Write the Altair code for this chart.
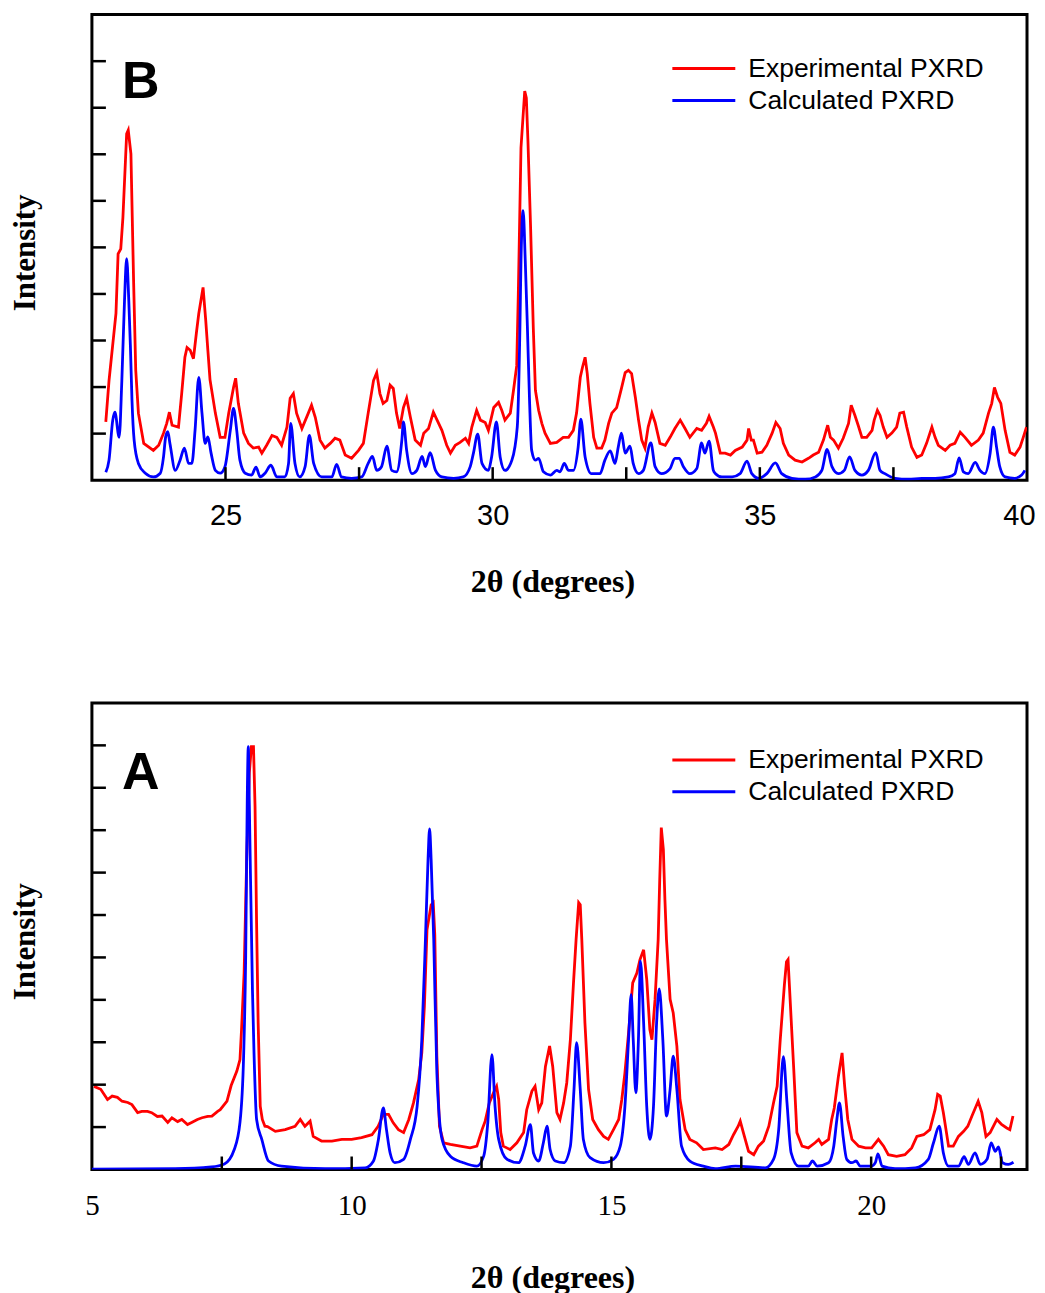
import altair as alt
import pandas as pd

# ---------------- data ----------------
series_names = ["Experimental PXRD", "Calculated PXRD"]
panel_letters = ["B", "A"]
x_title = "2θ (degrees)"
y_title = "Intensity"

# Panel B (top): 2theta 22.5-40
b_exp_x = [22.76, 22.82, 22.95, 22.99, 23.04, 23.08, 23.15, 23.18, 23.23, 23.28, 23.32, 23.37, 23.47, 23.65, 23.75,
           23.84, 23.90, 23.95, 24.00, 24.12, 24.18, 24.24, 24.28, 24.34, 24.40, 24.46, 24.50, 24.58, 24.63, 24.67,
           24.71, 24.81, 24.90, 24.99, 25.06, 25.15, 25.19, 25.24, 25.34, 25.43, 25.52, 25.62, 25.68, 25.77, 25.87,
           25.96, 26.05, 26.15, 26.21, 26.27, 26.33, 26.43, 26.55, 26.61, 26.68, 26.77, 26.86, 26.96, 27.05, 27.14,
           27.24, 27.36, 27.49, 27.58, 27.67, 27.77, 27.83, 27.89, 27.95, 28.02, 28.08, 28.14, 28.20, 28.26, 28.33,
           28.39, 28.46, 28.55, 28.65, 28.71, 28.80, 28.89, 28.96, 29.05, 29.14, 29.21, 29.30, 29.39, 29.49, 29.55,
           29.61, 29.70, 29.77, 29.86, 29.92, 30.02, 30.11, 30.17, 30.23, 30.33, 30.39, 30.45, 30.48, 30.53, 30.60,
           30.63, 30.66, 30.71, 30.76, 30.80, 30.86, 30.92, 30.98, 31.08, 31.20, 31.32, 31.42, 31.51, 31.57, 31.64,
           31.68, 31.73, 31.77, 31.82, 31.89, 31.95, 32.04, 32.10, 32.17, 32.23, 32.32, 32.41, 32.48, 32.54, 32.60,
           32.67, 32.73, 32.79, 32.85, 32.91, 32.98, 33.04, 33.13, 33.23, 33.32, 33.41, 33.51, 33.60, 33.69, 33.82,
           33.91, 34.00, 34.05, 34.13, 34.17, 34.26, 34.35, 34.45, 34.54, 34.67, 34.76, 34.79, 34.84, 34.88, 34.95,
           35.04, 35.13, 35.23, 35.30, 35.38, 35.44, 35.54, 35.66, 35.79, 35.91, 36.00, 36.10, 36.19, 36.27, 36.32,
           36.38, 36.47, 36.56, 36.66, 36.71, 36.78, 36.84, 36.91, 37.00, 37.10, 37.14, 37.20, 37.25, 37.31, 37.38,
           37.47, 37.56, 37.62, 37.69, 37.75, 37.84, 37.94, 38.03, 38.12, 38.22, 38.28, 38.34, 38.47, 38.56, 38.65,
           38.75, 38.84, 38.96, 39.09, 39.18, 39.28, 39.34, 39.39, 39.45, 39.51, 39.59, 39.68, 39.77, 39.87, 39.93,
           39.99]
b_exp_y = [1.25, 2.14, 3.58, 4.86, 4.97, 5.64, 7.44, 7.52, 7.01, 4.28, 2.36, 1.44, 0.79, 0.64, 0.75,
           1.01, 1.22, 1.46, 1.18, 1.14, 1.86, 2.64, 2.85, 2.79, 2.61, 3.21, 3.58, 4.14, 3.43, 2.79,
           2.16, 1.44, 0.92, 0.92, 1.44, 1.99, 2.19, 1.65, 1.01, 0.79, 0.69, 0.71, 0.58, 0.75, 0.96,
           0.92, 0.75, 1.14, 1.76, 1.86, 1.44, 1.11, 1.44, 1.61, 1.35, 0.86, 0.69, 0.79, 0.90, 0.86,
           0.54, 0.47, 0.64, 0.79, 1.44, 2.14, 2.31, 1.86, 1.65, 1.71, 2.04, 1.97, 1.44, 1.11, 1.56,
           1.76, 1.35, 0.86, 0.75, 1.01, 1.11, 1.46, 1.29, 1.07, 0.75, 0.58, 0.75, 0.81, 0.90, 0.79,
           1.14, 1.50, 1.29, 1.24, 1.07, 1.56, 1.67, 1.50, 1.29, 1.44, 1.93, 2.46, 4.01, 7.14, 8.36,
           8.21, 7.29, 5.42, 3.28, 1.93, 1.50, 1.22, 1.01, 0.79, 0.81, 0.92, 0.92, 1.07, 1.44, 2.21,
           2.42, 2.64, 2.29, 1.65, 0.92, 0.69, 0.69, 0.86, 1.22, 1.44, 1.56, 1.97, 2.31, 2.36, 2.29,
           1.78, 1.29, 0.86, 0.69, 1.14, 1.44, 1.24, 0.79, 0.75, 0.92, 1.11, 1.29, 1.11, 0.92, 1.11,
           1.07, 1.22, 1.37, 1.14, 1.01, 0.58, 0.58, 0.54, 0.64, 0.71, 0.86, 1.11, 0.86, 0.86, 0.58,
           0.60, 0.75, 1.01, 1.24, 1.11, 0.79, 0.54, 0.43, 0.39, 0.47, 0.54, 0.60, 0.86, 1.18, 0.92,
           0.86, 0.69, 0.90, 1.22, 1.61, 1.39, 1.18, 0.92, 0.92, 1.07, 1.29, 1.50, 1.39, 1.14, 0.92,
           1.01, 1.14, 1.44, 1.46, 1.14, 0.71, 0.49, 0.54, 0.79, 1.14, 0.92, 0.75, 0.64, 0.75, 0.79,
           1.03, 0.92, 0.75, 0.86, 1.01, 1.44, 1.65, 1.99, 1.78, 1.65, 1.07, 0.60, 0.54, 0.71, 0.92,
           1.14]

b_calc_x = [22.76, 22.82, 22.89, 22.93, 23.01, 23.06, 23.11, 23.15, 23.19, 23.22, 23.25, 23.29, 23.37, 23.50, 23.65,
            23.78, 23.84, 23.88, 23.92, 23.96, 24.06, 24.15, 24.23, 24.31, 24.37, 24.43, 24.50, 24.56, 24.62, 24.67,
            24.73, 24.81, 24.90, 24.99, 25.09, 25.15, 25.21, 25.27, 25.37, 25.49, 25.57, 25.65, 25.74, 25.85, 25.96,
            26.11, 26.18, 26.22, 26.30, 26.39, 26.49, 26.57, 26.65, 26.80, 26.99, 27.08, 27.17, 27.36, 27.55, 27.67,
            27.75, 27.83, 27.92, 28.02, 28.11, 28.20, 28.30, 28.33, 28.39, 28.49, 28.58, 28.68, 28.74, 28.83, 28.93,
            29.05, 29.27, 29.45, 29.58, 29.64, 29.72, 29.80, 29.92, 29.98, 30.07, 30.14, 30.23, 30.36, 30.46, 30.51,
            30.53, 30.57, 30.61, 30.65, 30.69, 30.73, 30.80, 30.86, 30.95, 31.08, 31.20, 31.26, 31.34, 31.42, 31.51,
            31.60, 31.65, 31.73, 31.85, 32.01, 32.10, 32.20, 32.29, 32.35, 32.41, 32.48, 32.57, 32.63, 32.73, 32.82,
            32.96, 33.04, 33.16, 33.32, 33.41, 33.49, 33.57, 33.69, 33.82, 33.91, 33.97, 34.05, 34.13, 34.17, 34.29,
            34.48, 34.63, 34.76, 34.85, 34.98, 35.13, 35.29, 35.41, 35.60, 35.85, 36.04, 36.16, 36.26, 36.35, 36.47,
            36.58, 36.68, 36.78, 36.91, 37.03, 37.17, 37.25, 37.34, 37.53, 37.78, 38.03, 38.28, 38.53, 38.65, 38.73,
            38.81, 38.90, 39.03, 39.12, 39.21, 39.31, 39.37, 39.43, 39.49, 39.59, 39.77, 39.90, 39.96]
b_calc_y = [0.17, 0.43, 1.29, 1.46, 0.92, 2.14, 3.86, 4.76, 3.86, 2.89, 1.71, 0.86, 0.36, 0.15, 0.07,
            0.15, 0.50, 0.93, 1.04, 0.79, 0.21, 0.43, 0.69, 0.36, 0.36, 1.07, 2.21, 1.44, 0.79, 0.93,
            0.58, 0.21, 0.15, 0.29, 1.07, 1.54, 1.07, 0.43, 0.15, 0.11, 0.28, 0.07, 0.15, 0.32, 0.07,
            0.07, 0.36, 1.22, 0.36, 0.07, 0.29, 0.96, 0.36, 0.07, 0.07, 0.34, 0.07, 0.04, 0.07, 0.36,
            0.51, 0.21, 0.29, 0.73, 0.21, 0.18, 0.86, 1.25, 0.64, 0.14, 0.21, 0.51, 0.29, 0.59, 0.21,
            0.07, 0.04, 0.07, 0.29, 0.58, 0.99, 0.36, 0.21, 0.50, 1.25, 0.50, 0.21, 0.43, 1.14, 3.28,
            4.71, 5.79, 4.71, 3.28, 1.71, 0.64, 0.43, 0.47, 0.18, 0.11, 0.21, 0.18, 0.36, 0.21, 0.21,
            0.71, 1.31, 0.50, 0.14, 0.14, 0.43, 0.63, 0.36, 0.71, 1.01, 0.58, 0.73, 0.36, 0.14, 0.21,
            0.80, 0.29, 0.14, 0.25, 0.47, 0.47, 0.29, 0.14, 0.25, 0.80, 0.58, 0.84, 0.21, 0.14, 0.07,
            0.07, 0.14, 0.41, 0.14, 0.04, 0.14, 0.37, 0.14, 0.04, 0.02, 0.07, 0.21, 0.66, 0.29, 0.14,
            0.21, 0.50, 0.21, 0.11, 0.21, 0.59, 0.21, 0.14, 0.04, 0.02, 0.04, 0.04, 0.07, 0.14, 0.48,
            0.18, 0.14, 0.38, 0.21, 0.14, 0.58, 1.14, 0.71, 0.29, 0.07, 0.04, 0.11, 0.21]

# Panel A (bottom): 2theta 5-23
a_exp_x = [5.04, 5.17, 5.30, 5.39, 5.49, 5.58, 5.69, 5.77, 5.88, 5.96, 6.07, 6.15, 6.26, 6.35, 6.46,
           6.54, 6.65, 6.73, 6.84, 6.92, 7.03, 7.12, 7.23, 7.31, 7.42, 7.47, 7.60, 7.68, 7.79, 7.85,
           7.88, 7.93, 7.98, 8.03, 8.07, 8.11, 8.14, 8.17, 8.20, 8.24, 8.28, 8.33, 8.38, 8.53, 8.72,
           8.91, 9.01, 9.10, 9.20, 9.26, 9.42, 9.62, 9.81, 10.00, 10.19, 10.39, 10.51, 10.61, 10.71, 10.80,
           10.90, 11.00, 11.10, 11.19, 11.29, 11.35, 11.40, 11.45, 11.53, 11.57, 11.60, 11.64, 11.69, 11.77, 11.90,
           12.09, 12.28, 12.41, 12.51, 12.57, 12.65, 12.73, 12.79, 12.83, 12.87, 12.92, 13.05, 13.18, 13.31, 13.37,
           13.47, 13.53, 13.60, 13.66, 13.73, 13.81, 13.87, 13.95, 14.01, 14.08, 14.14, 14.21, 14.27, 14.32, 14.37,
           14.40, 14.43, 14.49, 14.56, 14.64, 14.75, 14.85, 14.94, 15.04, 15.14, 15.20, 15.26, 15.33, 15.41, 15.49,
           15.55, 15.62, 15.68, 15.74, 15.78, 15.84, 15.90, 15.93, 15.96, 16.00, 16.03, 16.06, 16.13, 16.19, 16.26,
           16.32, 16.42, 16.51, 16.64, 16.77, 17.00, 17.13, 17.26, 17.35, 17.44, 17.48, 17.54, 17.64, 17.74, 17.83,
           17.93, 18.03, 18.12, 18.19, 18.25, 18.33, 18.37, 18.40, 18.44, 18.51, 18.57, 18.67, 18.79, 18.92, 18.99,
           19.05, 19.18, 19.24, 19.29, 19.37, 19.44, 19.49, 19.55, 19.63, 19.76, 19.89, 20.01, 20.14, 20.24, 20.33,
           20.49, 20.65, 20.78, 20.88, 21.01, 21.13, 21.23, 21.28, 21.33, 21.39, 21.49, 21.58, 21.68, 21.78, 21.86,
           21.94, 22.06, 22.13, 22.21, 22.29, 22.42, 22.51, 22.61, 22.67, 22.73]
a_exp_y = [1.96, 1.89, 1.65, 1.73, 1.70, 1.61, 1.58, 1.53, 1.34, 1.37, 1.37, 1.34, 1.25, 1.26, 1.11,
           1.22, 1.13, 1.18, 1.06, 1.11, 1.18, 1.22, 1.25, 1.26, 1.37, 1.41, 1.61, 1.98, 2.32, 2.59,
           3.30, 4.64, 7.37, 9.35, 9.97, 9.97, 8.56, 5.80, 3.46, 1.49, 1.18, 1.02, 1.01, 0.90, 0.94,
           1.02, 1.18, 1.02, 1.14, 0.78, 0.67, 0.67, 0.71, 0.71, 0.75, 0.82, 1.02, 1.30, 1.30, 1.10,
           0.94, 0.87, 1.18, 1.57, 2.12, 2.75, 3.85, 5.65, 6.24, 6.29, 5.54, 2.67, 1.02, 0.63, 0.59,
           0.55, 0.51, 0.55, 0.94, 1.14, 1.57, 1.81, 1.96, 1.65, 0.87, 0.55, 0.47, 0.63, 0.87, 1.41,
           1.85, 1.96, 1.41, 1.57, 2.43, 2.91, 2.43, 1.34, 1.18, 1.57, 2.04, 3.06, 4.40, 5.42, 6.29,
           6.24, 5.42, 3.46, 1.89, 1.18, 0.94, 0.78, 0.71, 0.94, 1.18, 1.65, 2.28, 3.22, 4.40, 4.63,
           4.95, 5.18, 4.48, 3.30, 3.06, 4.01, 5.42, 6.83, 8.06, 7.54, 6.36, 5.42, 4.01, 3.69, 2.91,
           1.65, 0.94, 0.71, 0.63, 0.47, 0.51, 0.47, 0.59, 0.82, 1.02, 1.14, 0.87, 0.43, 0.35, 0.55,
           0.67, 1.02, 1.57, 1.96, 3.06, 4.36, 4.90, 4.95, 4.01, 2.36, 0.87, 0.55, 0.51, 0.63, 0.71,
           0.59, 0.71, 1.18, 1.45, 2.20, 2.75, 1.96, 1.18, 0.71, 0.55, 0.51, 0.51, 0.71, 0.55, 0.35,
           0.31, 0.35, 0.51, 0.78, 0.82, 0.94, 1.41, 1.77, 1.73, 1.34, 0.55, 0.55, 0.78, 0.90, 1.02,
           1.26, 1.61, 1.34, 0.78, 0.87, 1.18, 1.06, 0.98, 0.94, 1.26]

a_calc_x = [5.00, 6.60, 7.30, 7.55, 7.74, 7.85, 7.92, 7.96, 7.99, 8.01, 8.03, 8.09, 8.12, 8.17, 8.27,
            8.40, 8.65, 9.49, 10.26, 10.42, 10.51, 10.61, 10.67, 10.74, 10.83, 11.00, 11.13, 11.26, 11.35, 11.42,
            11.47, 11.50, 11.53, 11.58, 11.64, 11.74, 11.90, 12.15, 12.41, 12.54, 12.62, 12.70, 12.76, 12.83, 12.99,
            13.21, 13.34, 13.44, 13.50, 13.60, 13.69, 13.76, 13.82, 13.92, 14.08, 14.21, 14.28, 14.33, 14.40, 14.46,
            14.59, 14.85, 15.04, 15.17, 15.26, 15.33, 15.38, 15.42, 15.47, 15.52, 15.56, 15.62, 15.68, 15.74, 15.81,
            15.87, 15.92, 15.99, 16.06, 16.13, 16.19, 16.26, 16.35, 16.51, 16.77, 17.00, 17.39, 17.96, 18.12, 18.22,
            18.31, 18.38, 18.46, 18.60, 18.79, 18.87, 18.96, 19.18, 19.28, 19.34, 19.39, 19.46, 19.53, 19.63, 19.71,
            19.79, 20.01, 20.08, 20.13, 20.21, 20.46, 20.85, 21.10, 21.20, 21.31, 21.39, 21.49, 21.68, 21.79, 21.87,
            22.00, 22.10, 22.23, 22.31, 22.39, 22.45, 22.53, 22.64, 22.74]
a_calc_y = [0.01, 0.02, 0.06, 0.13, 0.47, 1.11, 2.67, 5.03, 8.72, 9.97, 8.60, 4.24, 2.76, 1.18, 0.71,
            0.20, 0.08, 0.02, 0.04, 0.20, 0.67, 1.45, 0.94, 0.39, 0.16, 0.24, 0.71, 1.49, 3.06, 5.42,
            7.30, 8.03, 7.30, 5.42, 2.28, 0.71, 0.31, 0.16, 0.08, 0.31, 1.10, 2.71, 1.49, 0.71, 0.24,
            0.16, 0.55, 1.06, 0.39, 0.20, 0.63, 1.02, 0.47, 0.20, 0.16, 0.55, 1.89, 2.99, 1.89, 0.71,
            0.28, 0.16, 0.24, 0.55, 1.49, 3.06, 4.12, 3.06, 1.81, 3.06, 4.91, 3.46, 1.49, 0.71, 1.49,
            3.46, 4.26, 3.06, 1.26, 1.89, 2.67, 1.89, 0.55, 0.20, 0.08, 0.02, 0.08, 0.04, 0.24, 0.94,
            2.66, 1.57, 0.39, 0.08, 0.08, 0.20, 0.08, 0.16, 0.55, 1.18, 1.57, 0.78, 0.24, 0.16, 0.20,
            0.08, 0.08, 0.16, 0.37, 0.08, 0.02, 0.04, 0.24, 0.63, 1.02, 0.39, 0.08, 0.08, 0.30, 0.12,
            0.39, 0.12, 0.24, 0.63, 0.43, 0.53, 0.16, 0.12, 0.17]

# axis layout values
b_x_domain = [22.5, 40]
b_y_domain = [0, 10]
b_x_labels = [25, 30, 35, 40]
b_x_ticks = [25, 27.5, 30, 32.5, 35, 37.5]
b_y_ticks = [1, 2, 3, 4, 5, 6, 7, 8, 9]

a_x_domain = [5, 23]
a_y_domain = [0, 11]
a_x_labels = [5, 10, 15, 20]
a_x_ticks = [7.5, 10, 12.5, 15, 17.5, 20, 22.5]
a_y_ticks = [1, 2, 3, 4, 5, 6, 7, 8, 9, 10]

RED = "#ff0000"
BLUE = "#0000ff"
W = 936
SERIF = "Liberation Serif"
SANS = "Liberation Sans"


def panel(exp_x, exp_y, calc_x, calc_y, xdom, ydom, xlabels, xticks, yticks,
          letter, tick_font, label_pad, title_pad, flush, leg_y, letter_y, H):
    exp = pd.DataFrame({"two_theta": exp_x, "intensity": exp_y})
    calc = pd.DataFrame({"two_theta": calc_x, "intensity": calc_y})
    xs = alt.Scale(domain=xdom, nice=False, zero=False)
    ys = alt.Scale(domain=ydom, nice=False, zero=False)
    xaxis = alt.Axis(title=x_title, values=xlabels, ticks=False, tickSize=0, domain=False, grid=False,
                     labelFont=tick_font, labelFontSize=29, labelColor="black", labelPadding=label_pad,
                     labelFlush=flush, labelFlushOffset=8, labelOverlap=False, format="d",
                     titleFont=SERIF, titleFontSize=32, titleFontWeight="bold", titleColor="black",
                     titlePadding=title_pad, titleX=461, titleAlign="center")
    yaxis = alt.Axis(title=y_title, labels=False, ticks=False, tickSize=0, domain=False, grid=False,
                     titleFont=SERIF, titleFontSize=31, titleFontWeight="bold", titleColor="black",
                     titlePadding=50, titleY=H / 2 + 5)
    X = alt.X("two_theta:Q", scale=xs, axis=xaxis)
    Y = alt.Y("intensity:Q", scale=ys, axis=yaxis)

    exp_line = alt.Chart(exp).mark_line(color=RED, strokeWidth=2.8, clip=True).encode(x=X, y=Y)
    calc_line = alt.Chart(calc).mark_line(color=BLUE, strokeWidth=2.8, interpolate="monotone",
                                          clip=True).encode(x=X, y=Y)
    xt = alt.Chart(pd.DataFrame({"two_theta": xticks})).mark_rule(color="black", strokeWidth=2.5).encode(
        x=X, y=alt.value(H), y2=alt.value(H - 13))
    yt = alt.Chart(pd.DataFrame({"intensity": yticks})).mark_rule(color="black", strokeWidth=2.5).encode(
        y=Y, x=alt.value(0), x2=alt.value(14))

    one = pd.DataFrame({"k": [0]})
    layers = [exp_line, calc_line, xt, yt]
    for i, (name, col) in enumerate(zip(series_names, [RED, BLUE])):
        yy = leg_y + 32 * i
        layers.append(alt.Chart(one).mark_rule(color=col, strokeWidth=3).encode(
            x=alt.value(581), x2=alt.value(644), y=alt.value(yy)))
        layers.append(alt.Chart(one).mark_text(text=name, font=SANS, fontSize=26.5, color="black",
                                               align="left", baseline="middle").encode(
            x=alt.value(657), y=alt.value(yy)))
    layers.append(alt.Chart(one).mark_text(text=letter, font=SANS, fontSize=52, fontWeight="bold",
                                           color="black", align="left", baseline="alphabetic").encode(
        x=alt.value(30), y=alt.value(letter_y)))
    return alt.layer(*layers).properties(width=W, height=H)


top = panel(b_exp_x, b_exp_y, b_calc_x, b_calc_y, b_x_domain, b_y_domain, b_x_labels, b_x_ticks,
            b_y_ticks, panel_letters[0], SANS, 21, 36, True, 54, 83, 466)
bottom = panel(a_exp_x, a_exp_y, a_calc_x, a_calc_y, a_x_domain, a_y_domain, a_x_labels, a_x_ticks,
               a_y_ticks, panel_letters[1], SERIF, 22, 42, False, 57, 86, 467)

chart = alt.vconcat(top, bottom, spacing=102).configure_view(
    stroke="black", strokeWidth=3
).properties(padding={"left": 0, "top": 4, "right": 0, "bottom": 0}, background="white")

chart.save("out.html", embed_options={"renderer": "svg", "actions": False})
